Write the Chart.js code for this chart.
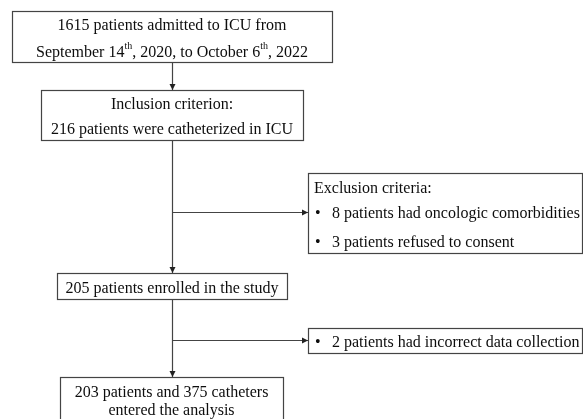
<!DOCTYPE html>
<html>
<head>
<meta charset="utf-8">
<script src="https://cdn.jsdelivr.net/npm/chart.js@4"></script>
<style>
  html, body { margin: 0; padding: 0; background: #fff; }
  #wrap { width: 583px; height: 419px; }
</style>
</head>
<body>
<div id="wrap"><canvas id="flow" width="583" height="419"></canvas></div>
<script>
// counts shown in the flow diagram
const flowCounts = [1615, 216, 205, 203];     // admitted, catheterized, enrolled, analysed
const exclusionCounts = [8, 3];               // oncologic comorbidities, refused consent
const dataIssueCounts = [2];                  // incorrect data collection
const catheterCount = 375;
const periodStart = ["September 14", "th", ", 2020"];
const periodEnd = ["October 6", "th", ", 2022"];

// text runs per box line; sup = superscript
const boxLines = [
  [[{ t: flowCounts[0] + " patients admitted to ICU from" }],
   [{ t: periodStart[0] }, { t: periodStart[1], sup: true }, { t: periodStart[2] + ", to " + periodEnd[0] },
    { t: periodEnd[1], sup: true }, { t: periodEnd[2] }]],
  [[{ t: "Inclusion criterion:" }],
   [{ t: flowCounts[1] + " patients were catheterized in ICU" }]],
  [[{ t: "Exclusion criteria:" }],
   [{ t: exclusionCounts[0] + " patients had oncologic comorbidities", bullet: true }],
   [{ t: exclusionCounts[1] + " patients refused to consent", bullet: true }]],
  [[{ t: flowCounts[2] + " patients enrolled in the study" }]],
  [[{ t: dataIssueCounts[0] + " patients had incorrect data collection", bullet: true }]],
  [[{ t: flowCounts[3] + " patients and " + catheterCount + " catheters" }],
   [{ t: "entered the analysis" }]]
];

// layout (in canvas units, y downwards)
const boxes = [
  { x0: 12, y0: 11, x1: 332, y1: 62, align: "center", ys: [24, 51] },
  { x0: 41, y0: 90, x1: 303, y1: 140, align: "center", ys: [103, 128] },
  { x0: 308, y0: 173, x1: 582, y1: 253, align: "left", ys: [187, 212, 241] },
  { x0: 57, y0: 273, x1: 287, y1: 299, align: "center", ys: [287] },
  { x0: 308, y0: 328, x1: 582, y1: 353, align: "left", ys: [341] },
  { x0: 60, y0: 377, x1: 283, y1: 430, align: "center", ys: [391, 409] }
];
const spineX = 172;
const connectors = [
  [[spineX, 62], [spineX, 90]],
  [[spineX, 140], [spineX, 273]],
  [[spineX, 212], [308, 212]],
  [[spineX, 299], [spineX, 377]],
  [[spineX, 340], [308, 340]]
];

const FONT = '"Liberation Serif", "Times New Roman", serif';
const LINE_COLOR = '#444';
const TEXT_COLOR = '#0d0d0d';

const flowPlugin = {
  id: 'flowPlugin',
  afterDatasetsDraw(chart) {
    const ctx = chart.ctx;
    const sx = chart.scales.x, sy = chart.scales.y;
    const px = v => sx.getPixelForValue(v);
    const py = v => sy.getPixelForValue(v);
    ctx.save();

    // arrowheads at the end of each connector
    ctx.fillStyle = '#222';
    connectors.forEach(c => {
      const [a, b] = c;
      const tx = px(b[0] + (a[0] === b[0] ? 0.5 : 0)), ty = py(b[1] + (a[1] === b[1] ? 0.5 : 0));
      ctx.beginPath();
      if (a[0] === b[0]) {
        ctx.moveTo(tx, ty); ctx.lineTo(tx - 3, ty - 6); ctx.lineTo(tx + 3, ty - 6);
      } else {
        ctx.moveTo(tx, ty); ctx.lineTo(tx - 6, ty - 3); ctx.lineTo(tx - 6, ty + 3);
      }
      ctx.closePath();
      ctx.fill();
    });

    // boxes
    ctx.strokeStyle = LINE_COLOR;
    ctx.lineWidth = 1.2;
    boxes.forEach(b => {
      const x0 = Math.round(px(b.x0)) + 0.5, x1 = Math.round(px(b.x1)) + 0.5;
      const y0 = Math.round(py(b.y0)) + 0.5, y1 = Math.round(py(b.y1)) + 0.5;
      ctx.fillStyle = '#fff';
      ctx.fillRect(x0, y0, x1 - x0, y1 - y0);
      ctx.strokeRect(x0, y0, x1 - x0, y1 - y0);
    });

    // text
    ctx.fillStyle = TEXT_COLOR;
    ctx.textBaseline = 'middle';
    ctx.textAlign = 'left';
    const mainFont = '16px ' + FONT, supFont = '10px ' + FONT;
    const widthOf = runs => runs.reduce((w, r) => {
      ctx.font = r.sup ? supFont : mainFont;
      return w + ctx.measureText(r.t).width;
    }, 0);
    boxLines.forEach((lines, i) => {
      const b = boxes[i];
      lines.forEach((runs, j) => {
        const y = py(b.ys[j]) + 1.5;
        let x = b.align === 'center'
          ? px((b.x0 + b.x1) / 2) - widthOf(runs) / 2
          : px(b.x0 + 6);
        runs.forEach(r => {
          if (r.bullet) {
            ctx.font = mainFont;
            ctx.fillText('\u2022', px(b.x0 + 7), y);
            x = px(b.x0 + 24);
          }
          ctx.font = r.sup ? supFont : mainFont;
          ctx.fillText(r.t, x, r.sup ? y - 6 : y);
          x += ctx.measureText(r.t).width;
        });
      });
    });
    ctx.restore();
  }
};

new Chart(document.getElementById('flow'), {
  type: 'scatter',
  data: {
    datasets: connectors.map(c => ({
      data: c.map(p => ({ x: p[0] + (c[0][0] === c[1][0] ? 0.5 : 0), y: p[1] + (c[0][1] === c[1][1] ? 0.5 : 0) })),
      showLine: true,
      pointRadius: 0,
      borderColor: LINE_COLOR,
      borderWidth: 1.2,
      fill: false
    }))
  },
  options: {
    responsive: false,
    animation: false,
    layout: { padding: 0 },
    plugins: { legend: { display: false }, tooltip: { enabled: false } },
    scales: {
      x: { type: 'linear', min: 0, max: 583, display: false },
      y: { type: 'linear', min: 0, max: 419, reverse: true, display: false }
    }
  },
  plugins: [flowPlugin]
});
</script>
</body>
</html>
